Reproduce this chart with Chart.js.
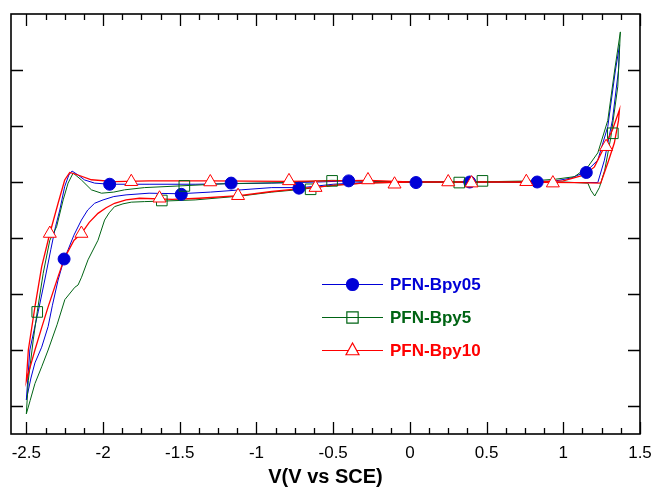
<!DOCTYPE html>
<html><head><meta charset="utf-8">
<script src="https://cdn.jsdelivr.net/npm/chart.js@4/dist/chart.umd.min.js"></script>
<style>html,body{margin:0;padding:0;background:#fff}</style>
</head><body>
<canvas id="c" width="654" height="489"></canvas>
<script>
// ---- tick labels ----
const xTicks = [-2.5, -2, -1.5, -1, -0.5, 0, 0.5, 1, 1.5];
const yTicks = [-4, -3, -2, -1, 0, 1, 2];
const seriesNames = ['PFN-Bpy05', 'PFN-Bpy5', 'PFN-Bpy10'];

// ---- PFN-Bpy05 (blue) ----
const bpy05V = [0, -0.3, -0.5, -0.7, -0.9, -1.1, -1.3, -1.5, -1.7, -1.85, -1.93, -2.0, -2.055, -2.1, -2.141, -2.19, -2.228, -2.254, -2.293, -2.33, -2.358, -2.4, -2.444, -2.47, -2.5,
  -2.49, -2.477, -2.45, -2.423, -2.38, -2.34, -2.31, -2.282, -2.25, -2.223, -2.202, -2.163, -2.12, -2.055, -1.957, -1.7, -1.4, -1.165, -0.9, -0.6, -0.4, 0, 0.4, 0.8, 0.95, 1.05, 1.147, 1.225, 1.29, 1.34, 1.367,
  1.36, 1.32, 1.268, 1.225, 1.1, 0.6, 0];
const bpy05I = [0, -0.01, -0.04, -0.1, -0.1, -0.14, -0.18, -0.21, -0.2, -0.23, -0.26, -0.32, -0.38, -0.5, -0.68, -0.95, -1.21, -1.375, -1.75, -2.2, -2.58, -2.95, -3.23, -3.5, -3.89,
  -3.5, -3.0, -2.65, -2.32, -1.75, -1.2, -0.8, -0.5, -0.08, 0.125, 0.196, 0.125, 0.036, -0.02, -0.04, -0.04, -0.04, -0.03, -0.02, 0, 0.02, 0, 0, 0, 0.02, 0.07, 0.18, 0.39, 0.99, 2.0, 2.45,
  2.0, 1.1, 0.39, -0.01, -0.01, 0, 0];
const bpy05MarkV = [-2.254, -1.957, -1.49, -1.165, -0.723, -0.399, 0.04, 0.39, 0.83, 1.15];
const bpy05MarkI = [-1.375, -0.04, -0.22, -0.02, -0.11, 0.02, -0.01, 0.0, 0.0, 0.17];

// ---- PFN-Bpy5 (green) ----
const bpy5V = [0, -0.3, -0.5, -0.6, -0.7, -0.9, -1.1, -1.4, -1.6, -1.73, -1.816, -1.87, -1.925, -1.96, -1.99, -2.033, -2.098, -2.14, -2.163, -2.184, -2.249, -2.3, -2.358, -2.4, -2.444, -2.475, -2.5,
  -2.487, -2.455, -2.429, -2.39, -2.347, -2.303, -2.26, -2.228, -2.195, -2.141, -2.076, -2.01, -1.93, -1.86, -1.73, -1.5, -1.2, -0.8, -0.51, 0, 0.4, 0.8, 0.95, 1.073, 1.16, 1.225, 1.29, 1.335, 1.372,
  1.355, 1.31, 1.27, 1.235, 1.205, 1.18, 1.16, 1.0, 0.5, 0];
const bpy5I = [0, -0.02, -0.06, -0.09, -0.13, -0.18, -0.25, -0.32, -0.34, -0.35, -0.36, -0.39, -0.44, -0.55, -0.68, -1.04, -1.39, -1.7, -1.84, -1.88, -2.1, -2.55, -3.0, -3.3, -3.6, -3.9, -4.14,
  -3.54, -2.82, -2.32, -1.63, -1.04, -0.8, -0.32, -0.02, 0.16, 0.036, -0.14, -0.2, -0.18, -0.14, -0.1, -0.07, -0.03, -0.01, 0.03, 0, 0, 0.02, 0.05, 0.095, 0.27, 0.52, 1.1, 2.0, 2.68,
  1.7, 0.8, 0.21, -0.1, -0.25, -0.15, -0.02, 0, 0, 0];
const bpy5MarkV = [-2.429, -1.617, -1.47, -0.647, -0.507, 0.322, 0.473, 1.323];
const bpy5MarkI = [-2.32, -0.33, -0.07, -0.13, 0.02, -0.01, 0.02, 0.87];

// ---- PFN-Bpy10 (red) ----
const bpy10V = [0, -0.3, -0.5, -0.6, -0.68, -0.9, -1.113, -1.373, -1.548, -1.762, -1.85, -1.925, -1.98, -2.033, -2.09, -2.141, -2.189, -2.25, -2.293, -2.358, -2.4, -2.444, -2.48, -2.5,
  -2.487, -2.444, -2.4, -2.358, -2.347, -2.293, -2.25, -2.217, -2.163, -2.076, -1.925, -1.7, -1.3, -0.8, -0.27, 0, 0.4, 0.8, 1.0, 1.138, 1.203, 1.268, 1.32, 1.366,
  1.36, 1.333, 1.29, 1.244, 1.1, 0.6, 0];
const bpy10I = [0, -0.02, -0.06, -0.09, -0.11, -0.17, -0.245, -0.29, -0.31, -0.29, -0.32, -0.38, -0.46, -0.56, -0.72, -0.92, -1.04, -1.35, -1.69, -2.23, -2.6, -3.0, -3.35, -3.55,
  -3.0, -2.23, -1.51, -1.04, -0.92, -0.38, 0.036, 0.17, 0.125, 0.04, 0.005, 0.02, 0.02, 0.01, 0.03, 0, 0, 0, 0.02, 0.125, 0.27, 0.63, 0.93, 1.29,
  1.1, 0.7, 0.34, -0.02, -0.01, 0, 0];
const bpy10MarkV = [-2.347, -2.141, -1.816, -1.632, -1.301, -1.12, -0.788, -0.615, -0.273, -0.1, 0.25, 0.402, 0.759, 0.932, 1.279];
const bpy10MarkI = [-0.92, -0.92, 0.005, -0.29, 0.0, -0.245, 0.02, -0.1, 0.036, -0.04, 0.0, -0.02, 0.005, -0.02, 0.63];

const BLUE = 'rgb(0,0,215)';
const GREEN = 'rgb(0,100,20)';
const RED = 'rgb(255,0,0)';
const FONT = 'Arial, "Liberation Sans", sans-serif';

const pts = (V, I) => V.map((v, i) => ({x: v, y: I[i]}));

function lineDs(label, V, I, color, w) {
  return {label, data: pts(V, I), borderColor: color, borderWidth: w, pointRadius: 0, pointHoverRadius: 0, fill: false, tension: 0, showLine: true};
}
function markDs(label, V, I, color, style, r, fillColor) {
  return {label, data: pts(V, I), showLine: false, pointStyle: style, pointRadius: r, pointHoverRadius: r,
    pointBackgroundColor: fillColor, pointBorderColor: color, pointBorderWidth: 1, borderColor: color, backgroundColor: fillColor};
}

function drawShape(ctx, style, x, y, r) {
  ctx.beginPath();
  if (style === 'circle') {
    ctx.arc(x, y, r, 0, Math.PI * 2);
  } else if (style === 'rect') {
    const s = Math.SQRT1_2 * r;
    ctx.rect(x - s, y - s, 2 * s, 2 * s);
  } else if (style === 'triangle') {
    ctx.moveTo(x, y - r);
    ctx.lineTo(x - r * Math.sin(Math.PI / 3), y + r * 0.5 + 0.5);
    ctx.lineTo(x + r * Math.sin(Math.PI / 3), y + r * 0.5 + 0.5);
    ctx.closePath();
  }
}

const framePlugin = {
  id: 'frame',
  beforeDatasetsDraw(chart) {
    const {ctx, chartArea: a, scales} = chart;
    const xs = scales.x, ys = scales.y;
    ctx.save();
    ctx.strokeStyle = '#000';
    ctx.lineWidth = 1.3;
    const minor = [];
    for (let i = 0; i < xTicks.length - 1; i++) {
      const step = (xTicks[i + 1] - xTicks[i]) / 4;
      for (let k = 1; k < 4; k++) minor.push(xTicks[i] + k * step);
    }
    ctx.beginPath();
    xTicks.forEach(v => {
      const px = Math.round(xs.getPixelForValue(v)) + 0.5;
      ctx.moveTo(px, a.bottom); ctx.lineTo(px, a.bottom - 12);
      ctx.moveTo(px, a.top); ctx.lineTo(px, a.top + 12);
    });
    minor.forEach(v => {
      const px = Math.round(xs.getPixelForValue(v)) + 0.5;
      ctx.moveTo(px, a.bottom); ctx.lineTo(px, a.bottom - 6);
      ctx.moveTo(px, a.top); ctx.lineTo(px, a.top + 6);
    });
    yTicks.forEach(v => {
      const py = Math.round(ys.getPixelForValue(v)) + 0.5;
      ctx.moveTo(a.left, py); ctx.lineTo(a.left + 12, py);
      ctx.moveTo(a.right, py); ctx.lineTo(a.right - 12, py);
    });
    ctx.stroke();
    ctx.lineWidth = 1.6;
    ctx.strokeRect(a.left, a.top, a.right - a.left, a.bottom - a.top);
    ctx.restore();
  }
};

const legendItems = [
  {name: seriesNames[0], color: BLUE, style: 'circle', r: 6, fill: BLUE, y: 284},
  {name: seriesNames[1], color: GREEN, style: 'rect', r: 8, fill: 'rgba(0,0,0,0)', y: 317},
  {name: seriesNames[2], color: RED, style: 'triangle', r: 7.5, fill: '#fff', y: 350}
];
const legendPlugin = {
  id: 'customLegend',
  afterDraw(chart) {
    const ctx = chart.ctx;
    ctx.save();
    legendItems.forEach(it => {
      ctx.strokeStyle = it.color; ctx.lineWidth = 1;
      ctx.beginPath(); ctx.moveTo(322, it.y + 0.5); ctx.lineTo(383, it.y + 0.5); ctx.stroke();
      drawShape(ctx, it.style, 352.5, it.y + 0.5, it.r);
      ctx.fillStyle = it.fill; ctx.fill();
      ctx.lineWidth = 1.2; ctx.stroke();
      ctx.font = 'bold 17px ' + FONT;
      ctx.fillStyle = it.color; ctx.textBaseline = 'alphabetic'; ctx.textAlign = 'left';
      ctx.fillText(it.name, 390, it.y + 6);
    });
    ctx.restore();
  }
};

new Chart(document.getElementById('c'), {
  type: 'line',
  data: {
    datasets: [
      markDs(seriesNames[2] + ' markers', bpy10MarkV, bpy10MarkI, RED, 'triangle', 7.5, '#fff'),
      markDs(seriesNames[1] + ' markers', bpy5MarkV, bpy5MarkI, GREEN, 'rect', 7.5, 'rgba(0,0,0,0)'),
      markDs(seriesNames[0] + ' markers', bpy05MarkV, bpy05MarkI, BLUE, 'circle', 6, BLUE),
      lineDs(seriesNames[2], bpy10V, bpy10I, RED, 1.3),
      lineDs(seriesNames[1], bpy5V, bpy5I, GREEN, 1),
      lineDs(seriesNames[0], bpy05V, bpy05I, BLUE, 1)
    ]
  },
  options: {
    responsive: false,
    animation: false,
    events: [],
    layout: {padding: {left: 11, right: 14, top: 14, bottom: 0}},
    plugins: {legend: {display: false}, tooltip: {enabled: false}},
    scales: {
      x: {
        type: 'linear', min: -2.6, max: 1.5,
        afterBuildTicks: s => { s.ticks = xTicks.map(v => ({value: v})); },
        afterFit: s => { s.height = 55; s.paddingLeft = 0; s.paddingRight = 0; },
        grid: {display: false, drawTicks: false},
        border: {display: false},
        ticks: {padding: 9, color: '#000', font: {size: 17, family: FONT}, maxRotation: 0, autoSkip: false,
          callback: v => String(v)},
        title: {display: true, text: 'V(V vs SCE)', color: '#000', font: {size: 20, weight: 'bold', family: FONT}, padding: {top: 2, bottom: 0}}
      },
      y: {
        type: 'linear', min: -4.5, max: 3, display: false
      }
    }
  },
  plugins: [framePlugin, legendPlugin]
});
</script>
</body></html>
